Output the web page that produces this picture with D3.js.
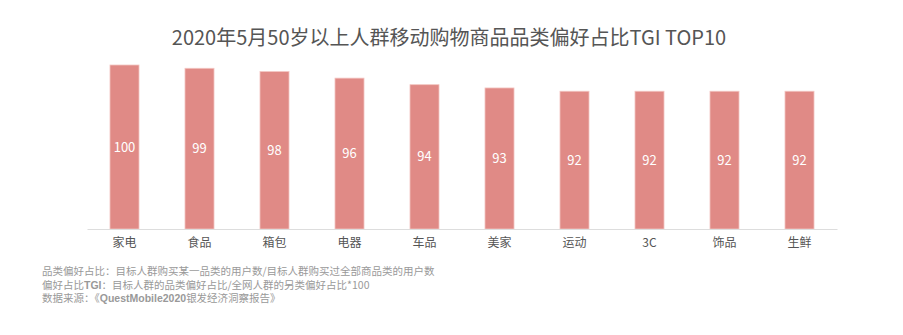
<!DOCTYPE html>
<html>
<head>
<meta charset="utf-8">
<script src="https://cdn.jsdelivr.net/npm/d3@7"></script>
<style>
  html, body { margin: 0; padding: 0; background: #fff; }
  svg { display: block; font-family: "Noto Sans CJK SC", "Noto Sans", sans-serif; }
</style>
</head>
<body>
<svg id="chart" width="903" height="335"></svg>
<script>
// Category preference TGI, users aged 50+, May 2020
const categories = ["家电", "食品", "箱包", "电器", "车品", "美家", "运动", "3C", "饰品", "生鲜"];
const tgiValues = [100, 99, 98, 96, 94, 93, 92, 92, 92, 92];
const titleText = "2020年5月50岁以上人群移动购物商品品类偏好占比TGI TOP10";
const notes = [
  [["品类偏好占比：目标人群购买某一品类的用户数/目标人群购买过全部商品类的用户数", false]],
  [["偏好占比", false], ["TGI", true], ["：目标人群的品类偏好占比/全网人群的另类偏好占比*100", false]],
  [["数据来源：《", false], ["QuestMobile2020", true], ["银发经济洞察报告》", false]]
];

const svg = d3.select("#chart");
const data = categories.map((c, i) => ({ cat: c, val: tgiValues[i] }));

const x = d3.scaleBand()
  .domain(categories)
  .range([87, 837])
  .paddingInner(0.613)
  .paddingOuter(0.3065);

const y = d3.scaleLinear()
  .domain([50, 100])
  .range([229, 65]);

// title
svg.append("text")
  .attr("x", 449)
  .attr("y", 45)
  .attr("text-anchor", "middle")
  .attr("font-size", 20)
  .attr("fill", "#555")
  .text(titleText);

// bars
svg.append("g").selectAll("rect")
  .data(data)
  .join("rect")
  .attr("x", d => x(d.cat))
  .attr("y", d => y(d.val))
  .attr("width", x.bandwidth())
  .attr("height", d => y(50) - y(d.val))
  .attr("fill", "#E08A86")
  .attr("stroke", "#F3C6C2")
  .attr("stroke-width", 0.8);

// value labels
svg.append("g").selectAll("text")
  .data(data)
  .join("text")
  .attr("x", d => x(d.cat) + x.bandwidth() / 2)
  .attr("y", d => (y(d.val) + y(50)) / 2)
  .attr("dy", "0.35em")
  .attr("text-anchor", "middle")
  .attr("font-size", 13)
  .attr("fill", "#fff")
  .text(d => d.val);

// x axis
const xAxis = svg.append("g")
  .attr("transform", `translate(0,${y(50)})`)
  .call(d3.axisBottom(x).tickSize(0).tickPadding(9));
xAxis.select(".domain").attr("stroke", "#ddd").attr("stroke-width", 1);
xAxis.selectAll("text")
  .attr("font-size", 12)
  .attr("fill", "#555")
  .attr("font-family", "\"Noto Sans CJK SC\", sans-serif");

// footnotes
const noteG = svg.append("g").attr("font-size", 10.5).attr("fill", "#999");
notes.forEach((line, i) => {
  const t = noteG.append("text")
    .attr("x", 42)
    .attr("y", 275 + i * 13.5);
  line.forEach(([s, bold]) => {
    t.append("tspan")
      .attr("font-weight", bold ? "bold" : "normal")
      .attr("font-family", bold ? "\"Liberation Sans\", sans-serif" : null)
      .text(s);
  });
});
</script>
</body>
</html>
